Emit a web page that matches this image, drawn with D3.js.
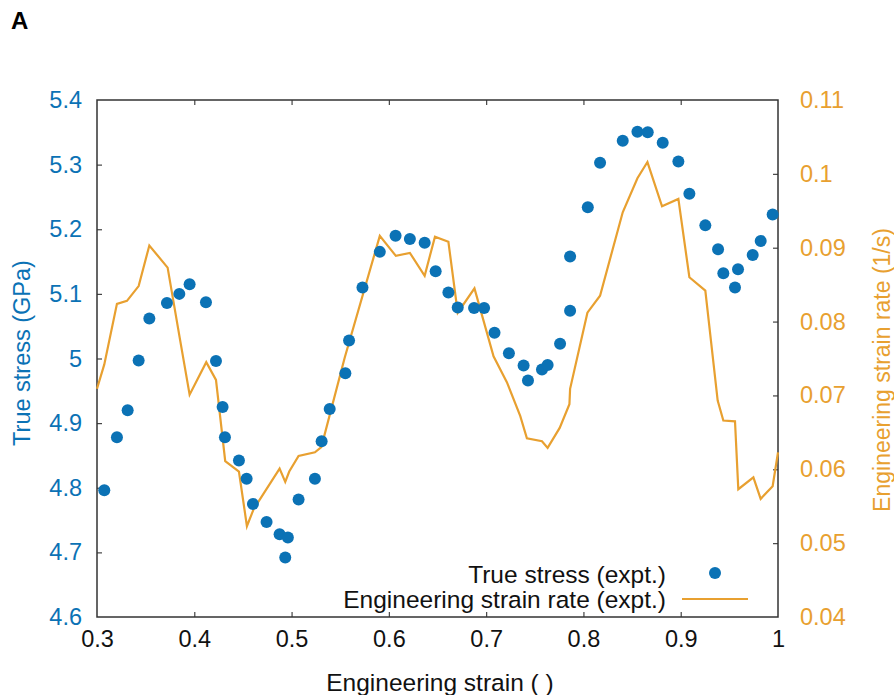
<!DOCTYPE html>
<html><head><meta charset="utf-8">
<script src="https://cdn.jsdelivr.net/npm/d3@7"></script>
<style>body{margin:0;background:#fff}svg{display:block}text{font-family:"Liberation Sans",Arial,sans-serif}</style>
</head><body><div id="chart"></div>
<script>
const stressStrain = [0.3075,0.3205,0.3315,0.3428,0.3538,0.3719,0.3846,0.3952,0.412,0.4223,0.4291,0.4315,0.4459,0.4538,0.4603,0.4743,0.4877,0.4962,0.4935,0.5072,0.524,0.5309,0.5392,0.5553,0.5591,0.5729,0.5907,0.6069,0.6216,0.6368,0.6481,0.6612,0.6708,0.6876,0.6979,0.7086,0.7234,0.7385,0.743,0.7574,0.7632,0.776,0.7863,0.7863,0.8045,0.8171,0.8404,0.8555,0.8661,0.8815,0.8976,0.9089,0.9253,0.9384,0.9438,0.9558,0.9589,0.974,0.9822,0.9945];
const stressValues = [4.796,4.878,4.920,4.997,5.062,5.086,5.100,5.115,5.087,4.996,4.925,4.878,4.842,4.814,4.775,4.747,4.728,4.723,4.692,4.782,4.814,4.872,4.922,4.977,5.028,5.110,5.165,5.190,5.185,5.179,5.135,5.102,5.079,5.078,5.078,5.040,5.008,4.989,4.966,4.983,4.990,5.023,5.074,5.158,5.234,5.303,5.337,5.351,5.350,5.334,5.305,5.255,5.206,5.169,5.132,5.110,5.138,5.160,5.182,5.223];
const rateStrain = [0.3,0.3075,0.3205,0.3308,0.3428,0.3538,0.3726,0.3849,0.3952,0.4123,0.4223,0.4318,0.4459,0.4541,0.461,0.4877,0.4935,0.4976,0.5072,0.524,0.5306,0.5546,0.5907,0.6072,0.6216,0.6368,0.6474,0.6612,0.6708,0.688,0.7076,0.7213,0.7351,0.7419,0.7574,0.7632,0.7756,0.7856,0.7863,0.8041,0.8171,0.8404,0.8555,0.8658,0.8808,0.8976,0.9089,0.9253,0.938,0.9438,0.9558,0.9592,0.9747,0.9822,0.9945,1.0];
const rateValues = [0.0709,0.0742,0.0824,0.0828,0.0848,0.0903,0.0873,0.0779,0.0701,0.0745,0.0721,0.0611,0.0597,0.0523,0.0546,0.0601,0.0583,0.0597,0.0618,0.0623,0.0630,0.0751,0.0916,0.0889,0.0893,0.0862,0.0915,0.0908,0.0812,0.0845,0.0753,0.0718,0.0672,0.0642,0.0638,0.0629,0.0656,0.0688,0.0709,0.0812,0.0835,0.0948,0.0994,0.1016,0.0956,0.0966,0.0860,0.0842,0.0693,0.0666,0.0665,0.0573,0.0589,0.0560,0.0577,0.0623];
const xTicks = [0.3,0.4,0.5,0.6,0.7,0.8,0.9,1];
const yTicks = [4.6,4.7,4.8,4.9,5,5.1,5.2,5.3,5.4];
const y2Ticks = [0.04,0.05,0.06,0.07,0.08,0.09,0.1,0.11];
const legendLabels = ["True stress (expt.)","Engineering strain rate (expt.)"];

const W=894,H=695, L=97,R=778,T=100,B=617, FS=23.5, FH=24.5;
const blue="#0b72b5", orange="#e8a030";
const svg=d3.select("#chart").append("svg").attr("width",W).attr("height",H);
const x=d3.scaleLinear().domain([0.3,1]).range([L,R]);
const y=d3.scaleLinear().domain([4.6,5.4]).range([B,T]);
const y2=d3.scaleLinear().domain([0.04,0.11]).range([B,T]);
const fmt=d=>String(+d.toFixed(2));

const gB=svg.append("g").attr("transform",`translate(0,${B})`).call(d3.axisBottom(x).tickValues(xTicks).tickSize(-5).tickPadding(13).tickFormat(fmt));
const gT=svg.append("g").attr("transform",`translate(0,${T})`).call(d3.axisTop(x).tickValues(xTicks).tickSize(-5).tickFormat(""));
const gL=svg.append("g").attr("transform",`translate(${L},0)`).call(d3.axisLeft(y).tickValues(yTicks).tickSize(-5).tickPadding(15).tickFormat(fmt));
const gR=svg.append("g").attr("transform",`translate(${R},0)`).call(d3.axisRight(y2).tickValues(y2Ticks).tickSize(-5).tickPadding(22).tickFormat(fmt));
[gB,gT,gL,gR].forEach(g=>{g.selectAll(".domain").remove();g.selectAll(".tick line").attr("stroke","#444").attr("stroke-width",1.2);g.selectAll("text").attr("font-size",FS).attr("font-family","Liberation Sans, Arial, sans-serif");});
gB.selectAll("text").attr("fill","#111");
gL.selectAll("text").attr("fill",blue);
gR.selectAll("text").attr("fill",orange);
gT.selectAll(".tick").filter((d,i)=>i==0||i==xTicks.length-1).remove();
gB.selectAll(".tick line").filter((d,i)=>i==0||i==xTicks.length-1).remove();
gL.selectAll(".tick line").filter((d,i)=>i==0||i==yTicks.length-1).remove();
gR.selectAll(".tick line").filter((d,i)=>i==0||i==y2Ticks.length-1).remove();

svg.append("rect").attr("x",L).attr("y",T).attr("width",R-L).attr("height",B-T).attr("fill","none").attr("stroke","#333").attr("stroke-width",1.5);

const lineData=rateStrain.map((s,i)=>[s,rateValues[i]]);
svg.append("path").datum(lineData).attr("fill","none").attr("stroke",orange).attr("stroke-width",2.2).attr("stroke-linejoin","miter")
  .attr("d",d3.line().x(d=>x(d[0])).y(d=>y2(d[1])));
svg.append("g").selectAll("circle").data(stressStrain.map((s,i)=>[s,stressValues[i]])).join("circle")
  .attr("cx",d=>x(d[0])).attr("cy",d=>y(d[1])).attr("r",6).attr("fill",blue);

// legend
const lg=svg.append("g");
lg.append("text").attr("x",666).attr("y",574).attr("dy","0.35em").attr("text-anchor","end").attr("font-size",FH).attr("fill","#111").text(legendLabels[0]);
lg.append("text").attr("x",666).attr("y",599).attr("dy","0.35em").attr("text-anchor","end").attr("font-size",FH).attr("fill","#111").text(legendLabels[1]);
lg.append("circle").attr("cx",715).attr("cy",573).attr("r",6).attr("fill",blue);
lg.append("line").attr("x1",682).attr("x2",748).attr("y1",599).attr("y2",599).attr("stroke",orange).attr("stroke-width",2);

// titles
svg.append("text").attr("x",440).attr("y",682).attr("dy","0.35em").attr("text-anchor","middle").attr("font-size",FH).attr("fill","#111").text("Engineering strain ( )");
svg.append("text").attr("transform",`translate(22,353) rotate(-90)`).attr("dy","0.35em").attr("text-anchor","middle").attr("font-size",FS).attr("fill",blue).text("True stress (GPa)");
svg.append("text").attr("transform",`translate(882,370) rotate(-90)`).attr("dy","0.35em").attr("text-anchor","middle").attr("font-size",23).attr("fill",orange).text("Engineering strain rate (1/s)");
svg.append("text").attr("x",11).attr("y",29).style("font-size","24px").style("font-weight","900").attr("fill","#000").text("A");
</script></body></html>
